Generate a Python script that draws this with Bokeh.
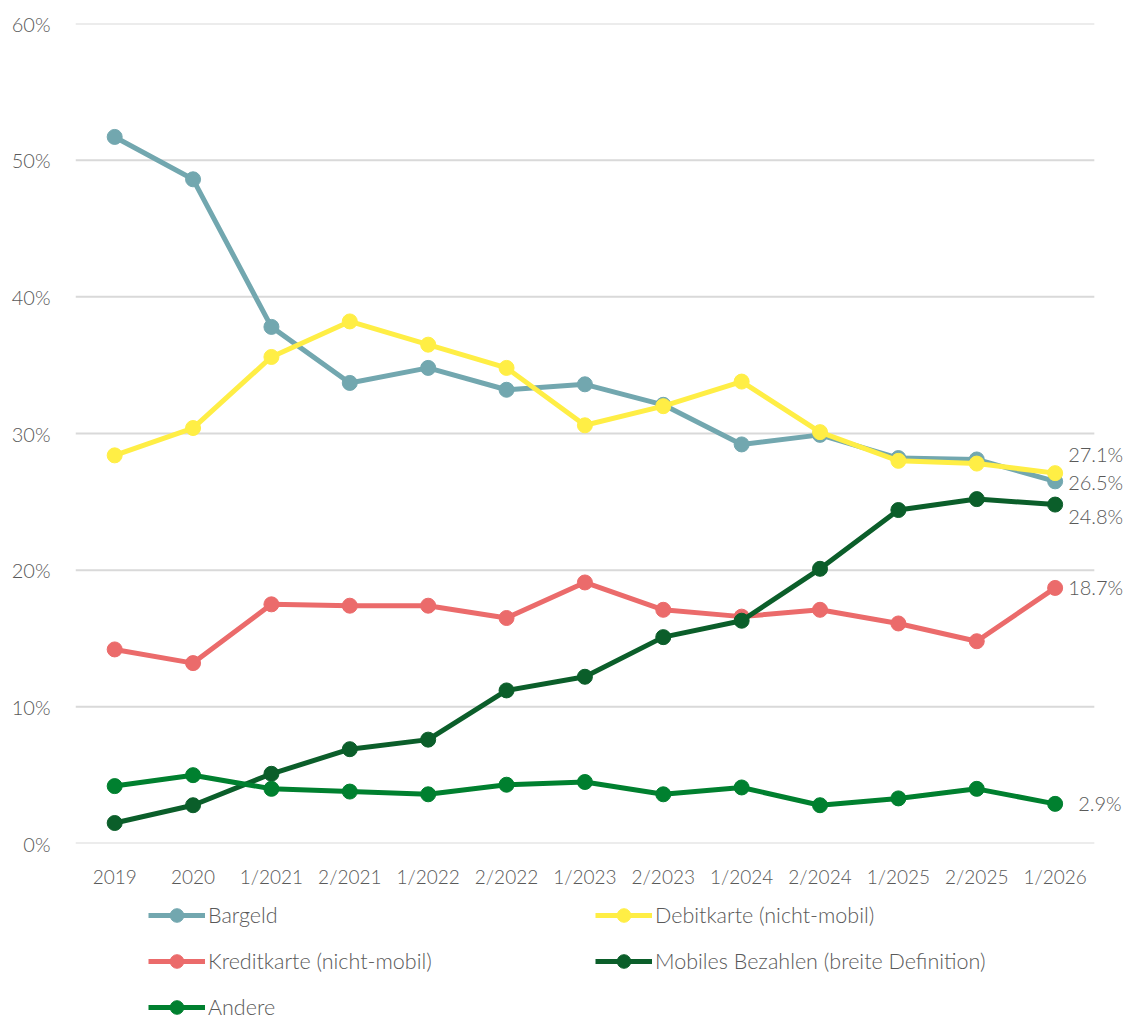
from bokeh.plotting import figure
from bokeh.layouts import column
from bokeh.models import Range1d, Legend, LegendItem, LabelSet, ColumnDataSource, FixedTicker, CustomJSTickFormatter
from bokeh.core.properties import value
from bokeh.embed import file_html
from bokeh.resources import INLINE

categories = ["2019", "2020", "1/2021", "2/2021", "1/2022", "2/2022", "1/2023",
              "2/2023", "1/2024", "2/2024", "1/2025", "2/2025", "1/2026"]

bargeld = [51.7, 48.6, 37.8, 33.7, 34.8, 33.2, 33.6, 32.1, 29.2, 29.9, 28.2, 28.1, 26.5]
debitkarte = [28.4, 30.4, 35.6, 38.2, 36.5, 34.8, 30.6, 32.0, 33.8, 30.1, 28.0, 27.8, 27.1]
kreditkarte = [14.2, 13.2, 17.5, 17.4, 17.4, 16.5, 19.1, 17.1, 16.6, 17.1, 16.1, 14.8, 18.7]
mobiles = [1.5, 2.8, 5.1, 6.9, 7.6, 11.2, 12.2, 15.1, 16.3, 20.1, 24.4, 25.2, 24.8]
andere = [4.2, 5.0, 4.0, 3.8, 3.6, 4.3, 4.5, 3.6, 4.1, 2.8, 3.3, 4.0, 2.9]

series_names = ["Bargeld", "Debitkarte (nicht-mobil)", "Kreditkarte (nicht-mobil)",
                "Mobiles Bezahlen (breite Definition)", "Andere"]
series_values = [bargeld, debitkarte, kreditkarte, mobiles, andere]
colors = ["#72A7AF", "#FFEE45", "#EB6B6B", "#0B5E2A", "#00802F"]

y_ticks = [0, 10, 20, 30, 40, 50, 60]

# end-label styling (screen offsets)
end_x_offsets = [13, 13, 13, 13, 23]
end_y_offsets = [-1, 19, 1, -11, 1]

FONT = "Lato Light"
TEXT_COLOR = "#595959"

xs = list(range(len(categories)))

p = figure(width=1133, height=896, x_range=Range1d(-0.5, 13.0), y_range=(0, 60),
           output_backend="svg", toolbar_location=None,
           min_border_left=75, min_border_right=0, min_border_top=23, min_border_bottom=53)
p.outline_line_color = None
p.background_fill_color = "white"
p.border_fill_color = "white"

p.xgrid.grid_line_color = None
p.ygrid.grid_line_color = None

# horizontal gridlines limited to the category span
p.segment(x0=[-0.5] * len(y_ticks), x1=[len(categories) - 0.5] * len(y_ticks),
          y0=y_ticks, y1=y_ticks, line_color="#D9D9D9", line_width=2)

p.xaxis.ticker = FixedTicker(ticks=xs)
p.xaxis.major_label_overrides = {i: c for i, c in zip(xs, categories)}
p.yaxis.ticker = FixedTicker(ticks=y_ticks)
p.yaxis.formatter = CustomJSTickFormatter(code="return tick + '%';")

for ax in (p.xaxis, p.yaxis):
    ax.axis_line_color = None
    ax.major_tick_line_color = None
    ax.minor_tick_line_color = None
    ax.major_tick_out = 0
    ax.major_tick_in = 0
    ax.major_label_text_font = FONT
    ax.major_label_text_color = TEXT_COLOR
p.xaxis.major_label_text_font_size = "19px"
p.yaxis.major_label_text_font_size = "20px"
p.xaxis.major_label_standoff = 21
p.yaxis.major_label_standoff = 25

for name, vals, col in zip(series_names, series_values, colors):
    src = ColumnDataSource(dict(x=xs, y=vals))
    p.line("x", "y", source=src, line_color=col, line_width=5)
    p.scatter("x", "y", source=src, size=15, fill_color=col, line_color=col)

# end labels
lab_src = ColumnDataSource(dict(
    x=[xs[-1]] * len(series_values),
    y=[v[-1] for v in series_values],
    text=[f"{v[-1]:.1f}%" for v in series_values],
    xo=end_x_offsets, yo=end_y_offsets,
))
labels = LabelSet(x="x", y="y", text="text", source=lab_src, x_offset="xo", y_offset="yo",
                  text_font=value(FONT), text_font_size="20px", text_color=TEXT_COLOR,
                  text_baseline="middle", text_align="left")
p.add_layout(labels)

# legend panel as a separate small figure (its renderers hold no visible data)
lf = figure(width=1133, height=128, x_range=Range1d(0, 1), y_range=Range1d(0, 1),
            output_backend="svg", toolbar_location=None,
            min_border_left=0, min_border_right=0, min_border_top=0, min_border_bottom=0)
lf.axis.visible = False
lf.grid.visible = False
lf.outline_line_color = None
lf.border_fill_color = "white"

nan = float("nan")
items = []
for name, col in zip(series_names, colors):
    ln = lf.line(x=[nan], y=[nan], line_color=col, line_width=5)
    sc = lf.scatter(x=[nan], y=[nan], size=15, fill_color=col, line_color=col)
    items.append(LegendItem(label=name, renderers=[ln, sc]))

legend = Legend(items=items, location=(73, 0), ncols=2, orientation="horizontal")
legend.label_text_font = FONT
legend.label_text_font_size = "21.5px"
legend.label_text_color = TEXT_COLOR
legend.glyph_width = 57
legend.glyph_height = 34
legend.label_height = 22
legend.label_standoff = 3
legend.label_width = 375
legend.spacing = 12
legend.padding = 0
legend.margin = 0
legend.border_line_color = None
legend.background_fill_alpha = 0
lf.add_layout(legend)

layout = column(p, lf, spacing=0)
open("out.html", "w").write(file_html(layout, INLINE))
